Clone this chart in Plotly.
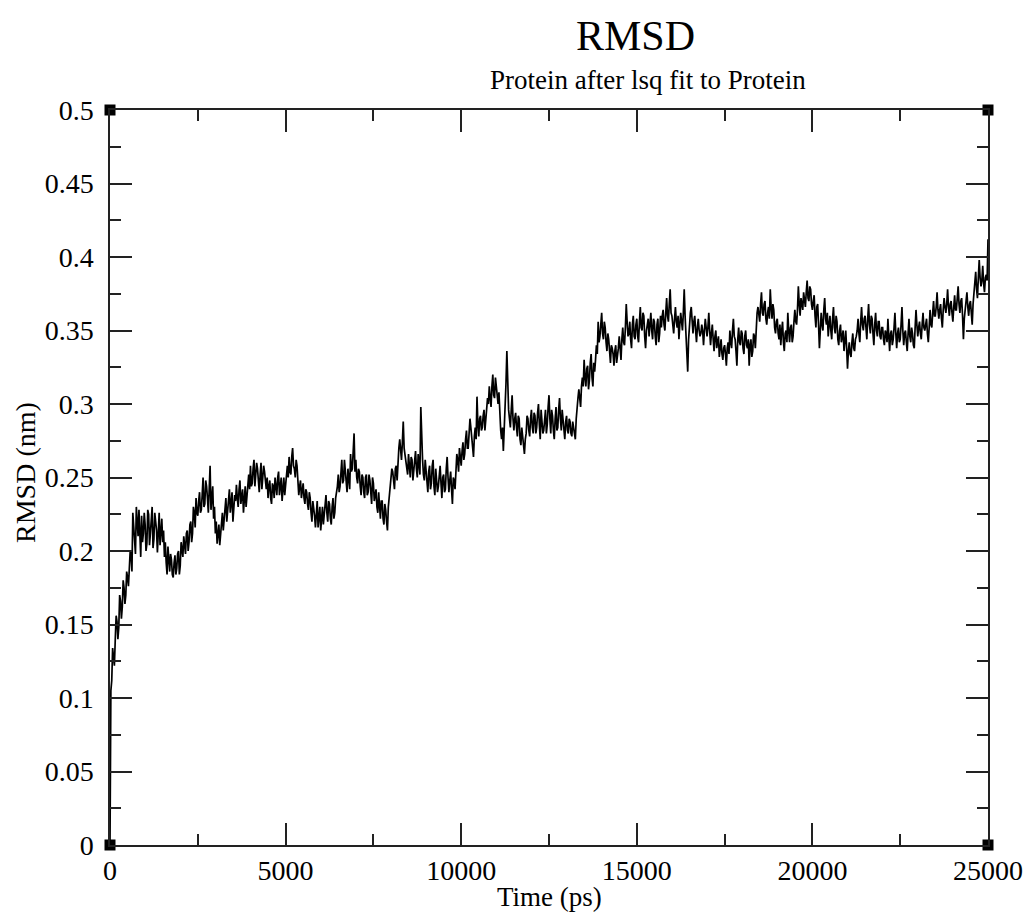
import numpy as np
import plotly.graph_objects as go

# RMSD of the protein after least-squares fit, trajectory written every 25 ps.
# Frames on the 50 ps grid (0, 50, 100, ... ps)
rmsd_even_00_05ns = [
    0.000, 0.112, 0.128, 0.140, 0.152, 0.148, 0.166, 0.162, 0.175, 0.170,
    0.182, 0.188, 0.198, 0.226, 0.206, 0.230, 0.210, 0.202, 0.224, 0.212,
    0.218, 0.205, 0.225, 0.212, 0.230, 0.208, 0.220, 0.199, 0.226, 0.214,
    0.206, 0.196, 0.192, 0.203, 0.186, 0.194, 0.182, 0.197, 0.188, 0.200,
    0.190, 0.202, 0.210, 0.198, 0.214, 0.206, 0.220, 0.212, 0.226, 0.236,
    0.224, 0.240, 0.228, 0.250, 0.232, 0.244, 0.226, 0.258, 0.236, 0.222,
    0.212, 0.205, 0.218, 0.210, 0.226, 0.222, 0.236, 0.228, 0.242, 0.232,
    0.220, 0.238, 0.245, 0.230, 0.248, 0.236, 0.226, 0.244, 0.238, 0.252,
    0.258, 0.246, 0.262, 0.250, 0.256, 0.240, 0.260, 0.248, 0.254, 0.242,
    0.236, 0.248, 0.232, 0.244, 0.250, 0.238, 0.254, 0.244, 0.234, 0.250,
]
rmsd_even_05_10ns = [
    0.246, 0.258, 0.264, 0.252, 0.270, 0.256, 0.262, 0.250, 0.244, 0.236,
    0.246, 0.232, 0.240, 0.228, 0.236, 0.220, 0.230, 0.216, 0.234, 0.222,
    0.214, 0.230, 0.224, 0.238, 0.220, 0.232, 0.218, 0.236, 0.226, 0.240,
    0.252, 0.244, 0.262, 0.248, 0.256, 0.240, 0.250, 0.266, 0.256, 0.280,
    0.262, 0.246, 0.254, 0.238, 0.250, 0.236, 0.252, 0.240, 0.248, 0.232,
    0.246, 0.238, 0.230, 0.240, 0.222, 0.234, 0.218, 0.228, 0.214, 0.236,
    0.246, 0.254, 0.242, 0.258, 0.264, 0.276, 0.262, 0.288, 0.266, 0.256,
    0.266, 0.250, 0.262, 0.254, 0.268, 0.250, 0.260, 0.298, 0.262, 0.248,
    0.256, 0.240, 0.258, 0.246, 0.262, 0.238, 0.250, 0.244, 0.258, 0.236,
    0.252, 0.242, 0.264, 0.240, 0.254, 0.232, 0.248, 0.256, 0.262, 0.270,
]
rmsd_even_10_15ns = [
    0.258, 0.274, 0.266, 0.282, 0.270, 0.290, 0.276, 0.264, 0.284, 0.305,
    0.278, 0.292, 0.284, 0.296, 0.288, 0.304, 0.312, 0.298, 0.320, 0.304,
    0.312, 0.300, 0.290, 0.276, 0.268, 0.300, 0.336, 0.296, 0.284, 0.306,
    0.282, 0.294, 0.278, 0.290, 0.272, 0.278, 0.266, 0.280, 0.290, 0.278,
    0.296, 0.280, 0.292, 0.284, 0.300, 0.276, 0.290, 0.282, 0.296, 0.286,
    0.306, 0.280, 0.292, 0.276, 0.298, 0.284, 0.304, 0.282, 0.290, 0.276,
    0.292, 0.280, 0.288, 0.278, 0.284, 0.276, 0.300, 0.310, 0.298, 0.318,
    0.330, 0.312, 0.326, 0.316, 0.334, 0.312, 0.322, 0.340, 0.356, 0.346,
    0.362, 0.344, 0.352, 0.336, 0.344, 0.328, 0.338, 0.326, 0.340, 0.332,
    0.346, 0.330, 0.352, 0.340, 0.368, 0.346, 0.356, 0.338, 0.360, 0.344,
]
rmsd_even_15_20ns = [
    0.358, 0.342, 0.366, 0.350, 0.360, 0.338, 0.354, 0.346, 0.362, 0.344,
    0.356, 0.340, 0.358, 0.348, 0.352, 0.364, 0.350, 0.372, 0.356, 0.378,
    0.360, 0.348, 0.366, 0.352, 0.344, 0.362, 0.350, 0.378, 0.346, 0.322,
    0.356, 0.366, 0.348, 0.360, 0.342, 0.358, 0.346, 0.354, 0.340, 0.358,
    0.346, 0.362, 0.340, 0.354, 0.336, 0.350, 0.342, 0.332, 0.344, 0.330,
    0.340, 0.326, 0.342, 0.350, 0.338, 0.358, 0.344, 0.326, 0.352, 0.340,
    0.348, 0.334, 0.350, 0.338, 0.326, 0.344, 0.336, 0.346, 0.352, 0.366,
    0.356, 0.376, 0.360, 0.370, 0.354, 0.366, 0.378, 0.358, 0.364, 0.348,
    0.358, 0.344, 0.340, 0.356, 0.336, 0.350, 0.362, 0.342, 0.354, 0.346,
    0.364, 0.354, 0.380, 0.360, 0.368, 0.376, 0.366, 0.384, 0.370, 0.378,
]
rmsd_even_20_25ns = [
    0.364, 0.374, 0.352, 0.368, 0.338, 0.362, 0.350, 0.372, 0.354, 0.346,
    0.360, 0.344, 0.366, 0.348, 0.356, 0.340, 0.354, 0.346, 0.336, 0.350,
    0.324, 0.342, 0.332, 0.348, 0.336, 0.346, 0.358, 0.342, 0.366, 0.350,
    0.360, 0.344, 0.368, 0.348, 0.358, 0.340, 0.362, 0.346, 0.356, 0.344,
    0.352, 0.340, 0.348, 0.358, 0.336, 0.350, 0.344, 0.362, 0.338, 0.352,
    0.344, 0.366, 0.340, 0.350, 0.336, 0.358, 0.342, 0.348, 0.338, 0.364,
    0.346, 0.356, 0.344, 0.362, 0.350, 0.358, 0.342, 0.364, 0.352, 0.370,
    0.360, 0.376, 0.358, 0.368, 0.352, 0.372, 0.362, 0.378, 0.360, 0.370,
    0.356, 0.374, 0.364, 0.380, 0.362, 0.372, 0.344, 0.366, 0.376, 0.360,
    0.370, 0.354, 0.378, 0.390, 0.372, 0.398, 0.380, 0.394, 0.376, 0.388,
    0.412,
]

# Frames in between (25, 75, 125, ... ps)
rmsd_odd_00_05ns = [
    0.105, 0.134, 0.122, 0.156, 0.140, 0.170, 0.154, 0.180, 0.164, 0.186,
    0.176, 0.200, 0.186, 0.214, 0.198, 0.220, 0.228, 0.196, 0.206, 0.226,
    0.200, 0.228, 0.204, 0.222, 0.202, 0.226, 0.214, 0.222, 0.204, 0.222,
    0.214, 0.206, 0.184, 0.196, 0.198, 0.184, 0.192, 0.184, 0.198, 0.184,
    0.206, 0.196, 0.204, 0.212, 0.200, 0.218, 0.206, 0.230, 0.216, 0.226,
    0.234, 0.226, 0.238, 0.230, 0.248, 0.236, 0.242, 0.228, 0.244, 0.230,
    0.220, 0.214, 0.204, 0.220, 0.214, 0.232, 0.220, 0.234, 0.226, 0.240,
    0.228, 0.234, 0.236, 0.242, 0.232, 0.242, 0.236, 0.230, 0.248, 0.242,
    0.244, 0.256, 0.244, 0.260, 0.244, 0.252, 0.242, 0.258, 0.246, 0.250,
    0.244, 0.236, 0.246, 0.236, 0.244, 0.250, 0.238, 0.250, 0.246, 0.238,
]
rmsd_odd_05_10ns = [
    0.256, 0.250, 0.254, 0.264, 0.258, 0.250, 0.258, 0.238, 0.248, 0.242,
    0.236, 0.242, 0.232, 0.240, 0.226, 0.234, 0.224, 0.226, 0.216, 0.230,
    0.226, 0.218, 0.234, 0.226, 0.234, 0.222, 0.230, 0.222, 0.236, 0.244,
    0.240, 0.254, 0.246, 0.262, 0.250, 0.256, 0.242, 0.254, 0.266, 0.254,
    0.250, 0.256, 0.244, 0.252, 0.240, 0.250, 0.238, 0.252, 0.240, 0.250,
    0.234, 0.242, 0.226, 0.232, 0.234, 0.222, 0.232, 0.220, 0.230, 0.240,
    0.256, 0.244, 0.256, 0.248, 0.270, 0.264, 0.274, 0.270, 0.260, 0.252,
    0.260, 0.264, 0.248, 0.262, 0.256, 0.266, 0.252, 0.276, 0.252, 0.262,
    0.246, 0.254, 0.242, 0.258, 0.244, 0.256, 0.240, 0.254, 0.246, 0.250,
    0.240, 0.256, 0.250, 0.248, 0.242, 0.250, 0.242, 0.266, 0.254, 0.264,
]
rmsd_odd_10_15ns = [
    0.268, 0.262, 0.276, 0.270, 0.280, 0.284, 0.270, 0.278, 0.276, 0.286,
    0.290, 0.282, 0.292, 0.282, 0.296, 0.300, 0.304, 0.312, 0.306, 0.318,
    0.302, 0.308, 0.282, 0.284, 0.282, 0.314, 0.310, 0.290, 0.296, 0.290,
    0.290, 0.284, 0.292, 0.276, 0.284, 0.270, 0.276, 0.292, 0.282, 0.290,
    0.284, 0.294, 0.280, 0.294, 0.286, 0.296, 0.280, 0.294, 0.280, 0.298,
    0.290, 0.296, 0.282, 0.290, 0.282, 0.296, 0.290, 0.296, 0.280, 0.288,
    0.282, 0.290, 0.280, 0.288, 0.280, 0.290, 0.304, 0.300, 0.312, 0.312,
    0.318, 0.324, 0.310, 0.328, 0.318, 0.328, 0.330, 0.334, 0.342, 0.354,
    0.348, 0.356, 0.342, 0.348, 0.336, 0.340, 0.334, 0.336, 0.328, 0.338,
    0.340, 0.344, 0.342, 0.352, 0.356, 0.348, 0.344, 0.354, 0.346, 0.354,
]
rmsd_odd_15_20ns = [
    0.346, 0.356, 0.352, 0.362, 0.346, 0.350, 0.358, 0.352, 0.350, 0.358,
    0.346, 0.354, 0.342, 0.360, 0.360, 0.354, 0.362, 0.360, 0.368, 0.362,
    0.354, 0.358, 0.356, 0.360, 0.354, 0.356, 0.362, 0.360, 0.340, 0.344,
    0.362, 0.354, 0.356, 0.350, 0.352, 0.350, 0.348, 0.350, 0.350, 0.352,
    0.352, 0.350, 0.348, 0.344, 0.346, 0.338, 0.346, 0.340, 0.334, 0.338,
    0.334, 0.338, 0.334, 0.342, 0.350, 0.346, 0.336, 0.344, 0.342, 0.350,
    0.338, 0.346, 0.340, 0.344, 0.340, 0.332, 0.348, 0.338, 0.362, 0.358,
    0.368, 0.362, 0.368, 0.358, 0.362, 0.358, 0.366, 0.368, 0.352, 0.356,
    0.348, 0.354, 0.350, 0.342, 0.348, 0.342, 0.350, 0.352, 0.342, 0.356,
    0.356, 0.364, 0.368, 0.372, 0.364, 0.368, 0.376, 0.372, 0.380, 0.368,
]
rmsd_odd_20_25ns = [
    0.370, 0.360, 0.366, 0.354, 0.350, 0.354, 0.364, 0.358, 0.362, 0.354,
    0.350, 0.358, 0.352, 0.360, 0.344, 0.350, 0.342, 0.350, 0.344, 0.338,
    0.336, 0.334, 0.342, 0.338, 0.344, 0.350, 0.348, 0.356, 0.354, 0.358,
    0.352, 0.358, 0.354, 0.360, 0.348, 0.354, 0.350, 0.356, 0.346, 0.352,
    0.344, 0.350, 0.342, 0.346, 0.348, 0.340, 0.352, 0.348, 0.348, 0.342,
    0.354, 0.350, 0.348, 0.342, 0.348, 0.346, 0.352, 0.340, 0.352, 0.354,
    0.352, 0.348, 0.354, 0.352, 0.354, 0.348, 0.352, 0.354, 0.362, 0.360,
    0.366, 0.364, 0.364, 0.358, 0.364, 0.366, 0.368, 0.366, 0.368, 0.362,
    0.366, 0.364, 0.372, 0.368, 0.370, 0.360, 0.358, 0.370, 0.366, 0.368,
    0.362, 0.368, 0.382, 0.378, 0.386, 0.386, 0.384, 0.382, 0.386, 0.384,
]

rmsd_even = (rmsd_even_00_05ns + rmsd_even_05_10ns + rmsd_even_10_15ns
             + rmsd_even_15_20ns + rmsd_even_20_25ns)
rmsd_odd = (rmsd_odd_00_05ns + rmsd_odd_05_10ns + rmsd_odd_10_15ns
            + rmsd_odd_15_20ns + rmsd_odd_20_25ns)

# interleave the two frame sets into one 25 ps series
rmsd_nm = np.empty(len(rmsd_even) + len(rmsd_odd))
rmsd_nm[0::2] = rmsd_even
rmsd_nm[1::2] = rmsd_odd
time_ps = np.arange(len(rmsd_nm)) * 25

x_ticks = [0, 5000, 10000, 15000, 20000, 25000]
y_ticks = [0, 0.05, 0.1, 0.15, 0.2, 0.25, 0.3, 0.35, 0.4, 0.45, 0.5]
y_tick_text = ["0", "0.05", "0.1", "0.15", "0.2", "0.25",
               "0.3", "0.35", "0.4", "0.45", "0.5"]

FONT = "Liberation Serif, Times New Roman, serif"

fig = go.Figure()
fig.add_trace(go.Scatter(
    x=time_ps, y=rmsd_nm, mode="lines",
    line=dict(color="black", width=1.7),
    hoverinfo="skip", showlegend=False,
))

# frame corner markers
fig.add_trace(go.Scatter(
    x=[0, 25000, 0, 25000], y=[0, 0, 0.5, 0.5], mode="markers",
    marker=dict(symbol="square", size=11, color="black",
                line=dict(width=0)),
    cliponaxis=False, hoverinfo="skip", showlegend=False,
))

axis_common = dict(
    showline=True, linecolor="#222222", linewidth=1.5, mirror="allticks",
    ticks="inside", ticklen=22, tickwidth=1.5, tickcolor="#222222",
    showgrid=False, zeroline=False, automargin=False,
    tickfont=dict(family=FONT, size=28, color="black"),
    minor=dict(ticks="inside", ticklen=11, tickwidth=1.5,
               tickcolor="#222222", showgrid=False),
)

fig.update_xaxes(
    range=[0, 25000], tickvals=x_ticks,
    ticktext=[str(v) for v in x_ticks],
    minor_dtick=2500, minor_tick0=0,
    **axis_common,
)
fig.update_yaxes(
    range=[0, 0.5], tickvals=y_ticks, ticktext=y_tick_text,
    minor_dtick=0.025, minor_tick0=0,
    ticklabelstandoff=9,
    **axis_common,
)

text_items = [
    dict(text="RMSD", x=0.599, y=1.1007, size=42, angle=0),
    dict(text="Protein after lsq fit to Protein", x=0.613, y=1.0408,
         size=27, angle=0),
    dict(text="Time (ps)", x=0.5, y=-0.071, size=27, angle=0),
    dict(text="RMSD (nm)", x=-0.0957, y=0.5075, size=28, angle=-90),
]
for item in text_items:
    fig.add_annotation(
        text=item["text"], xref="paper", yref="paper",
        x=item["x"], y=item["y"], showarrow=False, textangle=item["angle"],
        font=dict(family=FONT, size=item["size"], color="black"),
        xanchor="center", yanchor="middle",
    )

fig.update_layout(
    width=1026, height=914,
    margin=dict(l=110, r=38, t=110, b=69),
    paper_bgcolor="white", plot_bgcolor="white",
    font=dict(family=FONT, color="black"),
)

fig.write_html("out.html")
